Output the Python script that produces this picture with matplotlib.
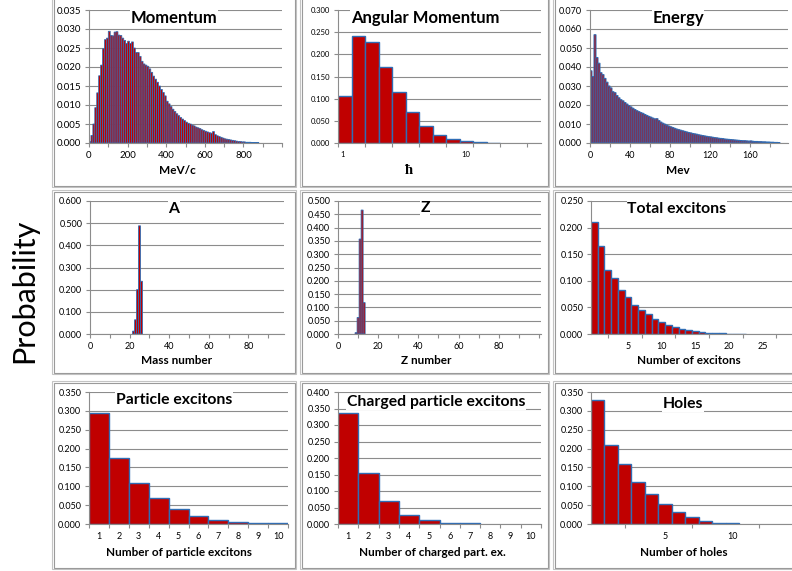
import numpy as np
import matplotlib
matplotlib.use('Agg')
import matplotlib.pyplot as plt
from matplotlib.patches import Rectangle

plt.rcParams['font.family'] = ['Lato', 'DejaVu Sans']

W, H = 792, 571

# =========================================
# DATA
# =========================================
# momentum, 10 MeV/c bins starting at 0
momentum = [0.0004, 0.0020, 0.0050, 0.0093, 0.0132, 0.0177, 0.0205, 0.0248, 0.0272, 0.0276,
            0.0294, 0.0283, 0.0282, 0.0292, 0.0293, 0.0284, 0.0283, 0.0276, 0.0270, 0.0262,
            0.0268, 0.0262, 0.0266, 0.0250, 0.0238, 0.0238, 0.0228, 0.0215, 0.0208, 0.0205,
            0.0202, 0.0195, 0.0186, 0.0176, 0.0168, 0.0160, 0.0150, 0.0141, 0.0133, 0.0124,
            0.0110, 0.0103, 0.0096, 0.0089, 0.0083, 0.0077, 0.0072, 0.0067, 0.0063, 0.0059,
            0.0055, 0.0052, 0.0050, 0.0047, 0.0045, 0.0042, 0.0040, 0.0038, 0.0035, 0.0033,
            0.0031, 0.0029, 0.0027, 0.0026, 0.0030, 0.0022, 0.0019, 0.0017, 0.0015, 0.0013,
            0.0011, 0.0010, 0.0009, 0.0008, 0.0007, 0.0006, 0.0005, 0.0004, 0.0004, 0.0003,
            0.0003, 0.0002, 0.0002, 0.0002, 0.0001, 0.0001, 0.0001, 0.0001]
mom_bin = 10

# energy, 2 MeV bins starting at 0
energy = [0.0380, 0.0350, 0.0570, 0.0450, 0.0420, 0.0370, 0.0360, 0.0340, 0.0320, 0.0300,
          0.0290, 0.0270, 0.0265, 0.0250, 0.0238, 0.0228, 0.0222, 0.0213, 0.0205, 0.0197,
          0.0190, 0.0183, 0.0176, 0.0170, 0.0165, 0.0160, 0.0156, 0.0150, 0.0145, 0.0140,
          0.0136, 0.0131, 0.0127, 0.0128, 0.0118, 0.0110, 0.0104, 0.0099, 0.0094, 0.0089,
          0.0085, 0.0081, 0.0077, 0.0073, 0.0070, 0.0067, 0.0064, 0.0061, 0.0058, 0.0055,
          0.0053, 0.0050, 0.0048, 0.0046, 0.0043, 0.0041, 0.0039, 0.0037, 0.0035, 0.0033,
          0.0032, 0.0030, 0.0028, 0.0027, 0.0025, 0.0024, 0.0023, 0.0021, 0.0020, 0.0019,
          0.0018, 0.0017, 0.0016, 0.0015, 0.0014, 0.0013, 0.0012, 0.0012, 0.0011, 0.0010,
          0.0011, 0.0009, 0.0008, 0.0008, 0.0007, 0.0007, 0.0006, 0.0006, 0.0005, 0.0005,
          0.0004, 0.0004, 0.0003, 0.0003, 0.0002]
en_bin = 2

# angular momentum, log-spaced bins
ang_mom = [0.106, 0.242, 0.228, 0.172, 0.115, 0.069, 0.038, 0.019, 0.010, 0.005, 0.002, 0.001]

mass_number = [22, 23, 24, 25, 26]
mass_prob = [0.013, 0.064, 0.200, 0.488, 0.238]

z_number = [9, 10, 11, 12, 13]
z_prob = [0.005, 0.062, 0.357, 0.466, 0.118]

total_exc = [0.211, 0.166, 0.120, 0.105, 0.082, 0.070, 0.055, 0.046, 0.037, 0.029,
             0.023, 0.017, 0.014, 0.0095, 0.0069, 0.0050, 0.0038, 0.0026, 0.0019, 0.0013,
             0.0008, 0.0005, 0.0003]

particle_exc = [0.294, 0.174, 0.110, 0.069, 0.040, 0.022, 0.0106, 0.0062, 0.0027, 0.0018]
charged_exc = [0.336, 0.154, 0.071, 0.028, 0.011, 0.004, 0.002]
holes = [0.329, 0.210, 0.158, 0.111, 0.079, 0.052, 0.031, 0.018, 0.009, 0.0035, 0.0018]

RED = '#C00000'
BLUE = '#2F6DB5'
GRID = '#8C8C8C'

fig = plt.figure(figsize=(W / 100, H / 100), dpi=100)
fig.patch.set_facecolor('white')


def px_axes(l, t, r, b):
    return fig.add_axes([l / W, 1 - b / H, (r - l) / W, (b - t) / H])


def style(ax, ymax, ystep, fs):
    ax.set_ylim(0, ymax)
    ax.set_yticks(np.arange(0, ymax + ystep / 2, ystep))
    ax.yaxis.set_major_formatter('{x:.3f}')
    ax.grid(axis='y', color=GRID, lw=0.8)
    ax.set_axisbelow(True)
    for s in ['top', 'right']:
        ax.spines[s].set_visible(False)
    for s in ['left', 'bottom']:
        ax.spines[s].set_color(GRID)
        ax.spines[s].set_linewidth(0.8)
    ax.tick_params(which='both', colors=GRID, labelcolor='black', length=3,
                   width=0.8, labelsize=fs, pad=2.5)


def title(cx, cy, s, fs=11.3):
    fig.text(cx / W, 1 - cy / H, s, ha='center', va='center', fontsize=fs,
             fontweight='bold', bbox=dict(fc='white', ec='none', pad=0.5))


def xlab(cx, cy, s, fs=8.5, **kw):
    fig.text(cx / W, 1 - cy / H, s, ha='center', va='center', fontsize=fs,
             fontweight='bold', **kw)


def dense_bars(ax, x, y, w, lw):
    # many narrow bars: red fill, blue outline, blended without pixel snapping
    bars = ax.bar(x, y, width=w, align='edge', color=RED, edgecolor=BLUE, lw=lw)
    for b in bars:
        b.set_snap(False)


# panel frames (double grey line)
cols = [(52, 296), (300, 549), (553, 796)]
rows = [(-3, 187), (190, 374), (381, 569)]
for (l, r) in cols:
    for (t, b) in rows:
        for d, c in [(0, '#C4C4C4'), (1.5, '#9A9A9A')]:
            fig.patches.append(Rectangle(((l + d) / W, 1 - (b - d) / H),
                                         (r - l - 2 * d) / W, (b - t - 2 * d) / H,
                                         transform=fig.transFigure, fill=False,
                                         ec=c, lw=0.8))

# ---------- Momentum ----------
ax = px_axes(89, 10, 282, 143)
dense_bars(ax, np.arange(len(momentum)) * mom_bin, momentum, mom_bin, 0.55)
style(ax, 0.035, 0.005, 7)
ax.set_xlim(0, 1000)
ax.set_xticks(np.arange(0, 1001, 100))
ax.set_xticklabels([str(v) if v % 200 == 0 and v < 1000 else '' for v in range(0, 1001, 100)])
title(174, 18, 'Momentum', 12)
xlab(177, 170, 'MeV/c')

# ---------- Angular momentum ----------
ax = px_axes(338, 10, 541, 143)
ax.set_xscale('log')
edges = 0.916 * 10 ** (0.1095 * np.arange(16))
ax.bar(edges[:len(ang_mom)], ang_mom, width=np.diff(edges)[:len(ang_mom)], align='edge',
       color=RED, edgecolor=BLUE, lw=1.0)
style(ax, 0.300, 0.050, 5.5)
ax.set_xlim(edges[0], edges[-1])
ax.set_xticks([1, 10])
ax.set_xticklabels(['1', '10'])
ax.set_xticks(edges[::2], minor=True)
ax.xaxis.set_minor_formatter(plt.NullFormatter())
ax.tick_params(axis='x', which='major', length=0, pad=5.5)
title(425, 18, 'Angular Momentum', 12)
xlab(408, 170, 'ħ', fs=10.5, family=['Liberation Serif', 'DejaVu Serif'])

# ---------- Energy ----------
ax = px_axes(590, 10, 788, 143)
dense_bars(ax, np.arange(len(energy)) * en_bin, energy, en_bin, 0.75)
style(ax, 0.070, 0.010, 6.5)
ax.set_xlim(0, 198)
ax.set_xticks(np.arange(0, 181, 20))
ax.set_xticklabels([str(v) if v % 40 == 0 else '' for v in range(0, 181, 20)])
title(678, 18, 'Energy', 12)
xlab(678, 170, 'Mev')

# ---------- A ----------
ax = px_axes(90, 201, 284, 334)
dense_bars(ax, np.array(mass_number) - 0.5, mass_prob, 1, 0.6)
style(ax, 0.600, 0.100, 6.5)
ax.set_xlim(0, 98)
ax.set_xticks(np.arange(0, 91, 10))
ax.set_xticklabels([str(v) if v % 20 == 0 else '' for v in range(0, 91, 10)])
title(174, 209, 'A')
xlab(177, 360, 'Mass number')

# ---------- Z ----------
ax = px_axes(338, 201, 541, 334)
dense_bars(ax, np.array(z_number) - 0.5, z_prob, 1, 0.6)
style(ax, 0.500, 0.050, 6.5)
ax.set_xlim(0, 101)
ax.set_xticks(np.arange(0, 101, 10))
ax.set_xticklabels([str(v) if v % 20 == 0 and v < 100 else '' for v in range(0, 101, 10)])
title(425, 208, 'Z')
xlab(426, 360, 'Z number')

# ---------- Total excitons ----------
ax = px_axes(591, 201, 793, 334)
ax.bar(np.arange(len(total_exc)), total_exc, width=1, color=RED, edgecolor=BLUE, lw=1.0)
style(ax, 0.250, 0.050, 6.5)
ax.set_xlim(-0.5, 29.5)
ax.set_xticks([5, 10, 15, 20, 25])
ax.set_xticks(np.arange(2, 30, 5), minor=True)
ax.tick_params(axis='x', which='major', length=0, pad=5.5)
title(677, 209, 'Total excitons')
xlab(689, 360, 'Number of excitons')

# ---------- Particle excitons ----------
ax = px_axes(89, 392, 288, 524)
ax.bar(np.arange(1, len(particle_exc) + 1), particle_exc, width=1, color=RED,
       edgecolor=BLUE, lw=1.0)
style(ax, 0.350, 0.050, 6.5)
ax.set_xlim(0.5, 10.5)
ax.set_xticks(np.arange(1, 11))
ax.set_xticks(np.arange(0.5, 11, 1), minor=True)
ax.tick_params(axis='x', which='major', length=0, pad=5.5)
title(174, 400, 'Particle excitons')
xlab(179, 553, 'Number of particle excitons')

# ---------- Charged particle excitons ----------
ax = px_axes(338, 392, 541, 524)
ax.bar(np.arange(1, len(charged_exc) + 1), charged_exc, width=1, color=RED,
       edgecolor=BLUE, lw=1.0)
style(ax, 0.400, 0.050, 6.5)
ax.set_xlim(0.5, 10.5)
ax.set_xticks(np.arange(1, 11))
ax.set_xticks(np.arange(0.5, 11, 1), minor=True)
ax.tick_params(axis='x', which='major', length=0, pad=5.5)
title(436, 402, 'Charged particle excitons')
xlab(432, 553, 'Number of charged part. ex.')

# ---------- Holes ----------
ax = px_axes(591, 392, 793, 524)
ax.bar(np.arange(len(holes)), holes, width=1, color=RED, edgecolor=BLUE, lw=1.0)
style(ax, 0.350, 0.050, 6.5)
ax.set_xlim(-0.5, 14.5)
ax.set_xticks([5, 10])
ax.set_xticks([2, 7, 12], minor=True)
ax.tick_params(axis='x', which='major', length=0, pad=5.5)
title(683, 404, 'Holes')
xlab(684, 553, 'Number of holes')

fig.text(24 / W, 1 - 291 / H, 'Probability', rotation=90, ha='center', va='center',
         fontsize=22)

fig.savefig('out.png', dpi=100)
